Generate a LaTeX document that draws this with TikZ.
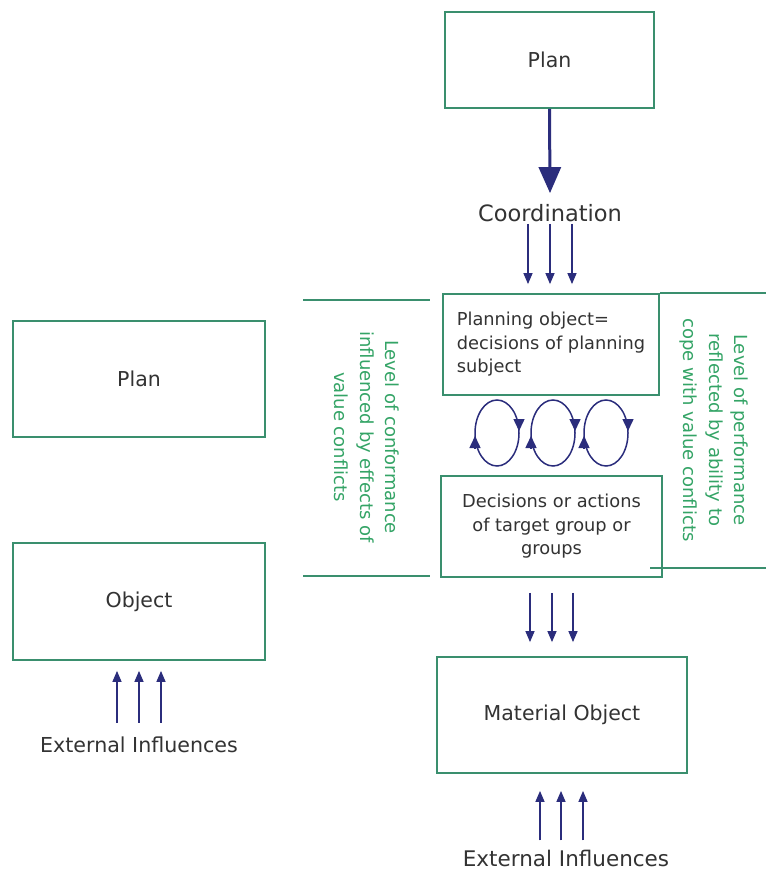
\documentclass[tikz,border=0pt]{standalone}
\usepackage{fontspec}
\setmainfont{DejaVu Sans}
\usetikzlibrary{arrows.meta}
\definecolor{boxgreen}{HTML}{3A8F6E}
\definecolor{txtgreen}{HTML}{34A466}
\definecolor{navy}{HTML}{2B2D7C}
\definecolor{ink}{HTML}{333333}
\begin{document}
\begin{tikzpicture}[x=1pt,y=-1pt,
  box/.style={draw=boxgreen,line width=1.8pt,text=ink,inner sep=0pt},
  bigtxt/.style={font=\fontsize{20.5}{24}\selectfont},
  boxtxt/.style={font=\fontsize{17.8}{23.5}\selectfont},
  sidetxt/.style={text=txtgreen,font=\fontsize{18}{25.5}\selectfont,align=center,rotate=-90,inner sep=0pt},
  label/.style={text=ink,inner sep=0pt},
  thinarrow/.style={draw=navy,line width=1.4pt,-{Triangle[width=9pt,length=11pt]},navy},
  thickarrow/.style={draw=navy,line width=3pt,-{Triangle[width=22pt,length=26pt]},navy},
  divider/.style={draw=boxgreen,line width=1.6pt},
  loopline/.style={draw=navy,line width=1.5pt},
  loophead/.style={draw=navy,line width=1.5pt,-{Triangle[width=11pt,length=12pt]},navy}
]
\useasboundingbox[fill=white] (0,0) rectangle (766,872);

% top column
\node[box,bigtxt,minimum width=209pt,minimum height=96pt] (plantop) at (549.5,60) {Plan};
\node[label,font=\fontsize{22.5}{26}\selectfont] (coord) at (550,213) {Coordination};
\draw[thickarrow] (plantop.south) -- ([yshift=11pt]coord.north);

\node[box,boxtxt,minimum width=216pt,minimum height=101pt,align=left] (pobj) at (551,344.5)
  {Planning object=\\decisions of planning\\subject};
\foreach \x in {528,550,572}
  \draw[thinarrow] ([xshift={\x pt-550pt},yshift=-2pt]coord.south) -- ([xshift={\x pt-551pt},yshift=9pt]pobj.north);

\node[box,boxtxt,minimum width=221pt,minimum height=101pt,align=center] (dec) at (551.5,526.5)
  {Decisions or actions\\of target group or\\groups};

% feedback loops between planning object and target groups
\foreach \cx in {497,553,606}{
  \draw[loopline] (\cx,433) ellipse (22 and 33);
  \draw[loophead] (\cx+22,419) -- (\cx+22,431);
  \draw[loophead] (\cx-22,448) -- (\cx-22,436);
}

\node[box,bigtxt,minimum width=250pt,minimum height=116pt] (mat) at (562,715) {Material Object};
\foreach \x in {530,552,573}
  \draw[thinarrow] ([xshift={\x pt-551.5pt},yshift=-15pt]dec.south) -- ([xshift={\x pt-562pt},yshift=14pt]mat.north);

\node[label,font=\fontsize{21.5}{25}\selectfont] (extR) at (566,858) {External Influences};
\foreach \x in {540,561,583}
  \draw[thinarrow] ([xshift={\x pt-566pt},yshift=9pt]extR.north) -- ([xshift={\x pt-562pt},yshift=-17pt]mat.south);

% left column
\node[box,bigtxt,minimum width=252pt,minimum height=116pt] (planL) at (139,379) {Plan};
\node[box,bigtxt,minimum width=252pt,minimum height=117pt] (objL) at (139,601.5) {Object};
\node[label,font=\fontsize{20.6}{24}\selectfont] (extL) at (139,745) {External Influences};
\foreach \dx in {-22,0,22}
  \draw[thinarrow] ([xshift=\dx pt,yshift=14pt]extL.north) -- ([xshift=\dx pt,yshift=-10pt]objL.south);

% dividers and side annotations
\coordinate (lt1) at (303,300);
\coordinate (lt2) at (430,300);
\coordinate (lb1) at (303,576);
\coordinate (lb2) at (430,576);
\draw[divider] (lt1) -- (lt2);
\draw[divider] (lb1) -- (lb2);
\coordinate (rt) at (766,295);
\coordinate (rb1) at (650,568);
\coordinate (rb2) at (766,568);
\draw[divider] (pobj.north east) -- (pobj.north east -| rt);
\draw[divider] (rb1) -- (rb2);

\node[sidetxt] (conf) at (367,437) {Level of conformance\\influenced by effects of\\value conflicts};
\node[sidetxt] (perf) at (714,430) {Level of performance\\reflected by ability to\\cope with value conflicts};
\end{tikzpicture}
\end{document}
